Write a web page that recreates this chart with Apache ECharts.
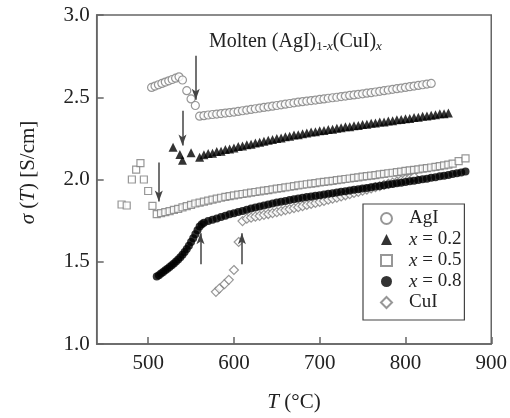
<!DOCTYPE html>
<html><head><meta charset="utf-8">
<script src="https://cdn.jsdelivr.net/npm/echarts@6/dist/echarts.min.js"></script>
<style>html,body{margin:0;padding:0;background:#fff}#c{width:510px;height:418px}</style>
</head><body><div id="c"></div>
<script>
// ---- data ----
const seriesNames = ['AgI', 'x = 0.2', 'x = 0.5', 'x = 0.8', 'CuI'];
const xTicks = [500, 600, 700, 800, 900];

const agiT = [504,508,512,516,520,524,528,532,536,540,545,550,555,
  560,565,570,575,580,585,590,595,600,605,610,615,620,625,630,635,640,645,650,655,660,665,670,675,680,685,690,695,700,
  705,710,715,720,725,730,735,740,745,750,755,760,765,770,775,780,785,790,795,800,805,810,815,820,825,830];
const agiS = [2.560,2.568,2.576,2.584,2.592,2.600,2.608,2.616,2.624,2.605,2.540,2.490,2.450,
  2.385,2.388,2.392,2.395,2.398,2.401,2.404,2.407,2.410,2.414,2.418,2.422,2.426,2.430,2.434,2.438,2.442,2.446,2.450,2.454,2.458,2.462,2.466,2.470,2.473,2.477,2.480,2.483,2.487,
  2.490,2.494,2.497,2.500,2.504,2.507,2.511,2.514,2.518,2.521,2.525,2.528,2.532,2.536,2.540,2.544,2.548,2.552,2.556,2.560,2.564,2.568,2.572,2.576,2.580,2.584];

const x02T = [529,537,540,550,560,
  565,570,575,580,585,590,595,600,605,610,615,620,625,630,635,640,645,650,655,660,665,670,675,680,685,690,695,700,
  705,710,715,720,725,730,735,740,745,750,755,760,765,770,775,780,785,790,795,800,805,810,815,820,825,830,835,840,845,850];
const x02S = [2.196,2.152,2.117,2.162,2.135,
  2.150,2.158,2.160,2.170,2.172,2.182,2.186,2.192,2.200,2.203,2.212,2.214,2.222,2.226,2.232,2.238,2.243,2.250,2.252,2.260,2.263,2.270,2.272,2.278,2.282,2.288,2.290,2.296,
  2.298,2.304,2.306,2.312,2.314,2.320,2.321,2.327,2.328,2.334,2.336,2.342,2.343,2.349,2.350,2.356,2.357,2.363,2.364,2.370,2.371,2.377,2.378,2.384,2.386,2.391,2.393,2.399,2.400,2.405];

const x05T = [469,475,481,486,491,495,500,505,
  510,515,520,525,530,535,540,545,550,555,560,565,570,575,580,585,590,595,600,605,610,615,620,625,630,635,640,645,650,655,660,665,670,675,680,685,690,695,700,
  705,710,715,720,725,730,735,740,745,750,755,760,765,770,775,780,785,790,795,800,805,810,815,820,825,830,835,840,845,850,855,862,870];
const x05S = [1.848,1.842,2.000,2.060,2.100,2.000,1.930,1.840,
  1.790,1.796,1.802,1.808,1.815,1.822,1.830,1.838,1.846,1.854,1.860,1.866,1.872,1.878,1.884,1.889,1.894,1.899,1.904,1.908,1.912,1.916,1.920,1.924,1.928,1.932,1.936,1.940,1.944,1.948,1.952,1.956,1.960,1.964,1.968,1.971,1.975,1.978,1.982,
  1.985,1.989,1.992,1.996,1.999,2.003,2.006,2.010,2.013,2.017,2.020,2.024,2.027,2.031,2.034,2.038,2.041,2.045,2.048,2.052,2.055,2.059,2.062,2.066,2.069,2.073,2.077,2.081,2.086,2.090,2.096,2.112,2.128];

const x08T = [510,512.5,515,517.5,520,522.5,525,527.5,530,532.5,535,537.5,540,542.5,545,547.5,550,552.5,555,557.5,560,562.5,565,570,575,
  580,585,590,595,600,605,610,615,620,625,630,635,640,645,650,655,660,665,670,675,680,685,690,695,700,
  705,710,715,720,725,730,735,740,745,750,755,760,765,770,775,780,785,790,795,800,805,810,815,820,825,830,835,840,845,850,855,860,865,870];
const x08S = [1.410,1.418,1.428,1.438,1.448,1.458,1.468,1.478,1.490,1.502,1.514,1.527,1.543,1.560,1.578,1.598,1.620,1.643,1.667,1.692,1.715,1.728,1.737,1.748,1.756,
  1.763,1.772,1.780,1.788,1.795,1.802,1.809,1.816,1.823,1.830,1.836,1.842,1.848,1.854,1.860,1.865,1.870,1.875,1.880,1.885,1.889,1.893,1.897,1.901,1.905,
  1.909,1.913,1.917,1.921,1.925,1.929,1.933,1.937,1.941,1.945,1.949,1.953,1.957,1.961,1.965,1.969,1.973,1.977,1.981,1.985,1.989,1.993,1.997,2.001,2.005,2.010,2.014,2.019,2.023,2.028,2.033,2.038,2.043,2.048];

const cuiT = [579,583,589,594,600,605.5,610,
  615,620,625,630,635,640,645,650,655,660,665,670,675,680,685,690,695,700,
  705,710,715,720,725,730,735,740,745,750,755,760,765,770,775,780,785,790,795,800,805,810];
const cuiS = [1.317,1.337,1.364,1.390,1.450,1.620,1.747,
  1.762,1.768,1.774,1.779,1.785,1.790,1.796,1.802,1.808,1.814,1.820,1.826,1.832,1.838,1.845,1.851,1.857,1.864,
  1.870,1.877,1.883,1.890,1.897,1.904,1.911,1.918,1.925,1.932,1.939,1.946,1.953,1.960,1.967,1.974,1.981,1.988,1.995,2.002,2.009,2.016];

// annotation arrows: [T, from sigma, to sigma]
const arrowT    = [555.5, 540, 512.4, 561, 609.3];
const arrowFrom = [2.752, 2.418, 2.103, 1.485, 1.485];
const arrowTo   = [2.485, 2.206, 1.867, 1.673, 1.673];

// ---- chart ----
const zip = (a, b) => a.map((v, i) => [v, b[i]]);
const SERIF = 'Liberation Serif';
const GRAY = '#7d7d7d';
const AX = '#666';

function scatter(name, T, S, symbol, size, filled, z) {
  return {
    name, type: 'scatter', data: zip(T, S), symbol, symbolSize: size, z,
    itemStyle: filled ? { color: '#000', borderColor: '#000', borderWidth: 0 }
                      : { color: '#fff', borderColor: GRAY, borderWidth: 1.2 },
    emphasis: { disabled: true }, silent: true
  };
}

const series = [
  scatter(seriesNames[0], agiT, agiS, 'circle', 8, false, 3),
  scatter(seriesNames[1], x02T, x02S, 'triangle', 9, true, 4),
  scatter(seriesNames[2], x05T, x05S, 'rect', 7, false, 3),
  scatter(seriesNames[3], x08T, x08S, 'circle', 8, true, 4),
  scatter(seriesNames[4], cuiT, cuiS, 'diamond', 9, false, 2)
];
series[0].markLine = {
  silent: true, symbol: ['none', 'arrow'], symbolSize: [6, 11],
  lineStyle: { color: '#444', width: 1.5, type: 'solid' },
  label: { show: false }, emphasis: { disabled: true },
  data: arrowT.map((t, i) => [{ coord: [t, arrowFrom[i]] }, { coord: [t, arrowTo[i]] }])
};

const italicRich = (size, lh) => ({ i: { fontStyle: 'italic', fontFamily: SERIF, fontSize: size, color: '#222', lineHeight: lh } });

const option = {
  animation: false,
  backgroundColor: '#fff',
  title: {
    left: 204, top: 26,
    text: 'Molten (AgI){s|1-}{si|x}(CuI){si|x}',
    textStyle: {
      fontFamily: SERIF, fontSize: 20, fontWeight: 'normal', color: '#222', lineHeight: 22,
      rich: {
        s: { fontFamily: SERIF, fontSize: 13, color: '#222', lineHeight: 14, padding: [12, 0, 0, 0], verticalAlign: 'bottom' },
        si: { fontFamily: SERIF, fontSize: 13, fontStyle: 'italic', color: '#222', lineHeight: 14, padding: [12, 0, 0, 0], verticalAlign: 'bottom' }
      }
    }
  },
  grid: { left: 96.7, right: 17.7, top: 15, bottom: 73, show: true, borderColor: AX, borderWidth: 1.5 },
  legend: {
    orient: 'vertical', left: 363, top: 204,
    padding: [5, 3, 8, 17], itemGap: 2, itemWidth: 11, itemHeight: 11,
    borderColor: '#444', borderWidth: 1.2, backgroundColor: '#fff',
    data: seriesNames,
    formatter: n => n.charAt(0) === 'x' ? '{i|x}' + n.slice(1) : n,
    textStyle: { fontFamily: SERIF, fontSize: 19, color: '#222', lineHeight: 16, padding: [0, 0, 0, 12], rich: italicRich(19, 16) }
  },
  xAxis: {
    type: 'value', min: 440, max: 900,
    axisLine: { show: true, onZero: false, lineStyle: { color: AX, width: 1.5 } },
    axisTick: { show: true, inside: true, length: 7, customValues: xTicks, lineStyle: { color: AX, width: 1.5 } },
    axisLabel: { customValues: xTicks, margin: 9, color: '#222', fontFamily: SERIF, fontSize: 21 },
    splitLine: { show: false },
    name: '{i|T} (°C)', nameLocation: 'middle', nameGap: 48,
    nameTextStyle: { fontFamily: SERIF, fontSize: 21, color: '#222', rich: italicRich(21) }
  },
  yAxis: {
    type: 'value', min: 1, max: 3, interval: 0.5,
    axisLine: { show: true, onZero: false, lineStyle: { color: AX, width: 1.5 } },
    axisTick: { show: true, inside: true, length: 7, lineStyle: { color: AX, width: 1.5 } },
    axisLabel: { margin: 7, color: '#222', fontFamily: SERIF, fontSize: 21, formatter: v => v.toFixed(1) },
    splitLine: { show: false },
    name: '{i|σ} ({i|T}) [S/cm]', nameLocation: 'middle', nameGap: 58, nameRotate: 90,
    nameTextStyle: { fontFamily: SERIF, fontSize: 21, color: '#222', rich: italicRich(21), padding: [0, 0, 0, 14] }
  },
  series
};

const chart = echarts.init(document.getElementById('c'), null, { renderer: 'canvas' });
chart.setOption(option);
</script>
</body></html>
